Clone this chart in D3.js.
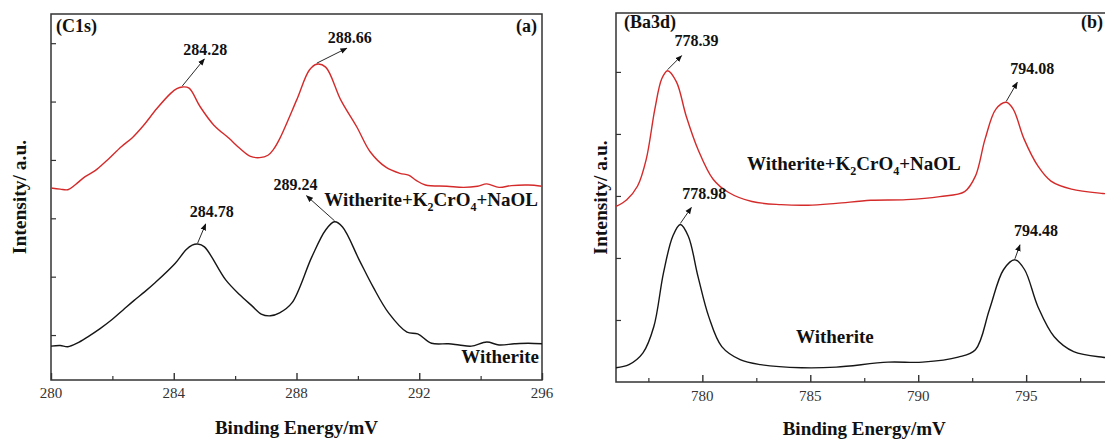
<!DOCTYPE html>
<html>
<head>
<meta charset="utf-8">
<script src="https://cdn.jsdelivr.net/npm/d3@7"></script>
<style>
  html, body { margin: 0; padding: 0; background: #fff; overflow: hidden; }
  svg { display: block; }
  text { font-family: "Liberation Serif", "Times New Roman", serif; fill: #111; }
</style>
</head>
<body>
<svg id="chart" width="1105" height="439"></svg>
<script>
// ---- C1s spectra: [binding energy (eV), intensity (a.u.)] ----
const c1sTreated = [
  [280,3.52],[280.3,3.50],[280.55,3.49],[280.8,3.58],[281.1,3.71],[281.45,3.82],[281.8,3.98],
  [282.3,4.23],[282.65,4.38],[283.0,4.58],[283.45,4.88],[283.9,5.14],[284.1,5.22],[284.28,5.25],
  [284.5,5.23],[284.85,4.92],[285.3,4.60],[285.8,4.37],[286.15,4.20],[286.5,4.06],[286.8,4.04],
  [287.07,4.08],[287.25,4.18],[287.45,4.36],[288.0,5.02],[288.42,5.54],[288.66,5.64],[288.95,5.59],
  [289.45,5.02],[289.97,4.56],[290.4,4.14],[290.9,3.88],[291.37,3.77],[291.65,3.74],[291.9,3.65],
  [292.2,3.57],[292.9,3.55],[293.45,3.53],[293.9,3.55],[294.2,3.59],[294.6,3.53],[295.0,3.56],
  [295.55,3.57],[296,3.55]
];
const c1sWitherite = [
  [280,0.81],[280.3,0.82],[280.55,0.80],[280.85,0.86],[281.2,0.97],[281.6,1.11],[282.0,1.27],
  [282.35,1.43],[282.7,1.59],[283.05,1.74],[283.4,1.90],[284.05,2.23],[284.4,2.46],[284.6,2.54],
  [284.78,2.56],[285.0,2.51],[285.7,1.94],[286.15,1.69],[286.55,1.50],[286.85,1.36],[287.15,1.33],
  [287.45,1.38],[287.85,1.55],[288.5,2.34],[288.95,2.80],[289.24,2.94],[289.5,2.85],[290.05,2.28],
  [290.5,1.82],[291.0,1.38],[291.6,1.05],[291.95,1.02],[292.4,0.86],[292.95,0.85],[293.3,0.83],
  [293.7,0.81],[294.2,0.88],[294.6,0.83],[295.1,0.85],[295.55,0.86],[296,0.85]
];
const c1sPeaksTreated = [284.28, 288.66];
const c1sPeaksWitherite = [284.78, 289.24];
const c1sMajorTicks = [280, 284, 288, 292, 296];
const c1sMinorTicks = [282, 286, 290, 294];
const c1sIntensityTicks = [1, 2, 3, 4, 5, 6];

// ---- Ba3d spectra ----
const ba3dTreated = [
  [776.0,2.83],[776.5,2.94],[777.0,3.16],[777.4,3.59],[777.8,4.40],[778.12,4.89],[778.39,5.02],
  [778.8,4.84],[779.25,4.29],[779.8,3.75],[780.5,3.27],[781.2,3.06],[782.3,2.91],[783.65,2.86],
  [784.9,2.85],[786.2,2.88],[787.8,2.93],[789.45,2.94],[791.0,2.99],[792.15,3.07],[792.65,3.32],
  [793.1,3.92],[793.6,4.40],[794.08,4.51],[794.4,4.40],[794.9,3.92],[795.55,3.48],[796.15,3.24],
  [797.1,3.11],[798.55,3.04],[799,3.03]
];
const ba3dWitherite = [
  [776.0,0.23],[776.6,0.28],[777.25,0.47],[777.75,0.89],[778.2,1.76],[778.63,2.35],[778.98,2.54],
  [779.35,2.35],[779.8,1.70],[780.3,1.05],[780.9,0.57],[781.75,0.36],[782.7,0.28],[784.6,0.23],
  [786.2,0.24],[788.6,0.32],[790.2,0.32],[791.85,0.40],[792.65,0.52],[793.3,1.17],[793.95,1.81],
  [794.48,1.97],[794.93,1.81],[795.55,1.21],[796.3,0.73],[797.2,0.49],[798.55,0.40],[799,0.39]
];
const ba3dPeaksTreated = [778.39, 794.08];
const ba3dPeaksWitherite = [778.98, 794.48];
const ba3dMajorTicks = [780, 785, 790, 795];
const ba3dMinorTicks = [777.5, 782.5, 787.5, 792.5, 797.5];
const ba3dIntensityTicks = [1, 2, 3, 4, 5];

const RED = "#d42a2a";
const BLACK = "#161616";
const AXIS = "#333";

// Arrow tip and label placement, in pixels relative to each annotated peak: [tipDx, tipDy, labelDx, labelDy]
const panels = [
  {
    frame: { x0: 51, x1: 542, y0: 14, y1: 380 },
    xDomain: [280, 296], yDomain: [0.23, 6.5],
    major: c1sMajorTicks, minor: c1sMinorTicks, yTicks: c1sIntensityTicks,
    tickLabelY: 398,
    tag: "(C1s)", tagPos: [56, 32], letter: "(a)", letterX: 537,
    series: [
      { data: c1sTreated, color: RED, peaks: c1sPeaksTreated, notes: [[22,-28,23,-32],[30,-16,33,-21]] },
      { data: c1sWitherite, color: BLACK, peaks: c1sPeaksWitherite, notes: [[8,-20,14,-27],[-28,-26,-39,-32]] }
    ],
    labels: [
      { name: "treated", anchor: "end", x: 538, y: 206 },
      { name: "plain", anchor: "end", x: 539, y: 363 }
    ],
    xTitleY: 434, yTitleX: 26
  },
  {
    frame: { x0: 616, x1: 1112.5, y0: 13, y1: 382 },
    xDomain: [776, 799], yDomain: [0, 5.95],
    major: ba3dMajorTicks, minor: ba3dMinorTicks, yTicks: ba3dIntensityTicks,
    tickLabelY: 401,
    tag: "(Ba3d)", tagPos: [624, 28], letter: "(b)", letterX: 1103,
    series: [
      { data: ba3dTreated, color: RED, peaks: ba3dPeaksTreated, notes: [[14,-15,29,-25],[11,-20,26,-28]] },
      { data: ba3dWitherite, color: BLACK, peaks: ba3dPeaksWitherite, notes: [[11,-17,24,-25],[5,-15,21,-24]] }
    ],
    labels: [
      { name: "treated", anchor: "start", x: 747, y: 170 },
      { name: "plain", anchor: "start", x: 796, y: 343 }
    ],
    xTitleY: 435, yTitleX: 607
  }
];

const svg = d3.select("#chart");

svg.append("defs").append("marker")
  .attr("id", "arrowhead")
  .attr("viewBox", "0 0 10 10")
  .attr("refX", 9).attr("refY", 5)
  .attr("markerWidth", 7).attr("markerHeight", 7)
  .attr("markerUnits", "userSpaceOnUse")
  .attr("orient", "auto")
  .append("path").attr("d", "M0,1 L10,5 L0,9 Z").attr("fill", "#111");

function sampleLabel(sel, name) {
  if (name === "plain") { sel.text("Witherite"); return; }
  sel.append("tspan").text("Witherite+K");
  sel.append("tspan").attr("dy", 5).attr("font-size", 12).text("2");
  sel.append("tspan").attr("dy", -5).text("CrO");
  sel.append("tspan").attr("dy", 5).attr("font-size", 12).text("4");
  sel.append("tspan").attr("dy", -5).text("+NaOL");
}

panels.forEach(p => {
  const f = p.frame;
  const x = d3.scaleLinear().domain(p.xDomain).range([f.x0, f.x1]);
  const y = d3.scaleLinear().domain(p.yDomain).range([f.y1, f.y0]);
  const g = svg.append("g");

  // bottom axis: labelled major ticks and short minor ticks, pointing inward
  g.append("g").attr("transform", `translate(0,${f.y1})`)
    .call(d3.axisBottom(x).tickValues(p.major).tickSize(-7).tickFormat(""))
    .call(a => a.select(".domain").remove())
    .call(a => a.selectAll("line").attr("stroke", AXIS).attr("stroke-width", 1.4));
  g.append("g").attr("transform", `translate(0,${f.y1})`)
    .call(d3.axisBottom(x).tickValues(p.minor).tickSize(-4).tickFormat(""))
    .call(a => a.select(".domain").remove())
    .call(a => a.selectAll("line").attr("stroke", AXIS).attr("stroke-width", 1.2));
  g.selectAll(".xlab").data(p.major).enter().append("text")
    .attr("x", d => x(d)).attr("y", p.tickLabelY)
    .attr("text-anchor", "middle").attr("font-size", 15).style("fill", "#333")
    .text(d => d);

  // left axis ticks (no labels)
  g.append("g").attr("transform", `translate(${f.x0},0)`)
    .call(d3.axisLeft(y).tickValues(p.yTicks).tickSize(-5).tickFormat(""))
    .call(a => a.select(".domain").remove())
    .call(a => a.selectAll("line").attr("stroke", AXIS).attr("stroke-width", 1.2));

  // frame
  g.append("rect")
    .attr("x", f.x0).attr("y", f.y0)
    .attr("width", f.x1 - f.x0).attr("height", f.y1 - f.y0)
    .attr("fill", "none").attr("stroke", AXIS).attr("stroke-width", 1.5);

  // spectra
  const line = d3.line().x(d => x(d[0])).y(d => y(d[1])).curve(d3.curveCatmullRom.alpha(0.5));
  p.series.forEach(s => {
    g.append("path").datum(s.data)
      .attr("d", line).attr("fill", "none")
      .attr("stroke", s.color).attr("stroke-width", 1.4)
      .attr("stroke-linejoin", "round");

    // peak annotations
    s.peaks.forEach((pk, i) => {
      const pt = s.data.reduce((a, b) => Math.abs(b[0] - pk) < Math.abs(a[0] - pk) ? b : a);
      const px = x(pk), py = y(pt[1]);
      const [tdx, tdy, ldx, ldy] = s.notes[i];
      g.append("line")
        .attr("x1", px).attr("y1", py - 1)
        .attr("x2", px + tdx).attr("y2", py + tdy)
        .attr("stroke", "#111").attr("stroke-width", 0.9)
        .attr("marker-end", "url(#arrowhead)");
      g.append("text")
        .attr("x", px + ldx).attr("y", py + ldy)
        .attr("text-anchor", "middle").attr("font-weight", "bold").attr("font-size", 16)
        .text(pk.toFixed(2));
    });
  });

  // sample labels
  p.labels.forEach(l => {
    g.append("text").attr("x", l.x).attr("y", l.y)
      .attr("text-anchor", l.anchor).attr("font-weight", "bold").attr("font-size", 19)
      .call(sel => sampleLabel(sel, l.name));
  });

  // panel tags
  g.append("text").attr("x", p.tagPos[0]).attr("y", p.tagPos[1])
    .attr("font-weight", "bold").attr("font-size", 18).text(p.tag);
  g.append("text").attr("x", p.letterX).attr("y", p.tagPos[1])
    .attr("text-anchor", "end").attr("font-weight", "bold").attr("font-size", 18).text(p.letter);

  // axis titles
  g.append("text").attr("x", (f.x0 + f.x1) / 2).attr("y", p.xTitleY)
    .attr("text-anchor", "middle").attr("font-weight", "bold").attr("font-size", 19)
    .text("Binding Energy/mV");
  g.append("text")
    .attr("transform", `translate(${p.yTitleX},${(f.y0 + f.y1) / 2}) rotate(-90)`)
    .attr("text-anchor", "middle").attr("font-weight", "bold").attr("font-size", 19.5)
    .text("Intensity/ a.u.");
});
</script>
</body>
</html>
